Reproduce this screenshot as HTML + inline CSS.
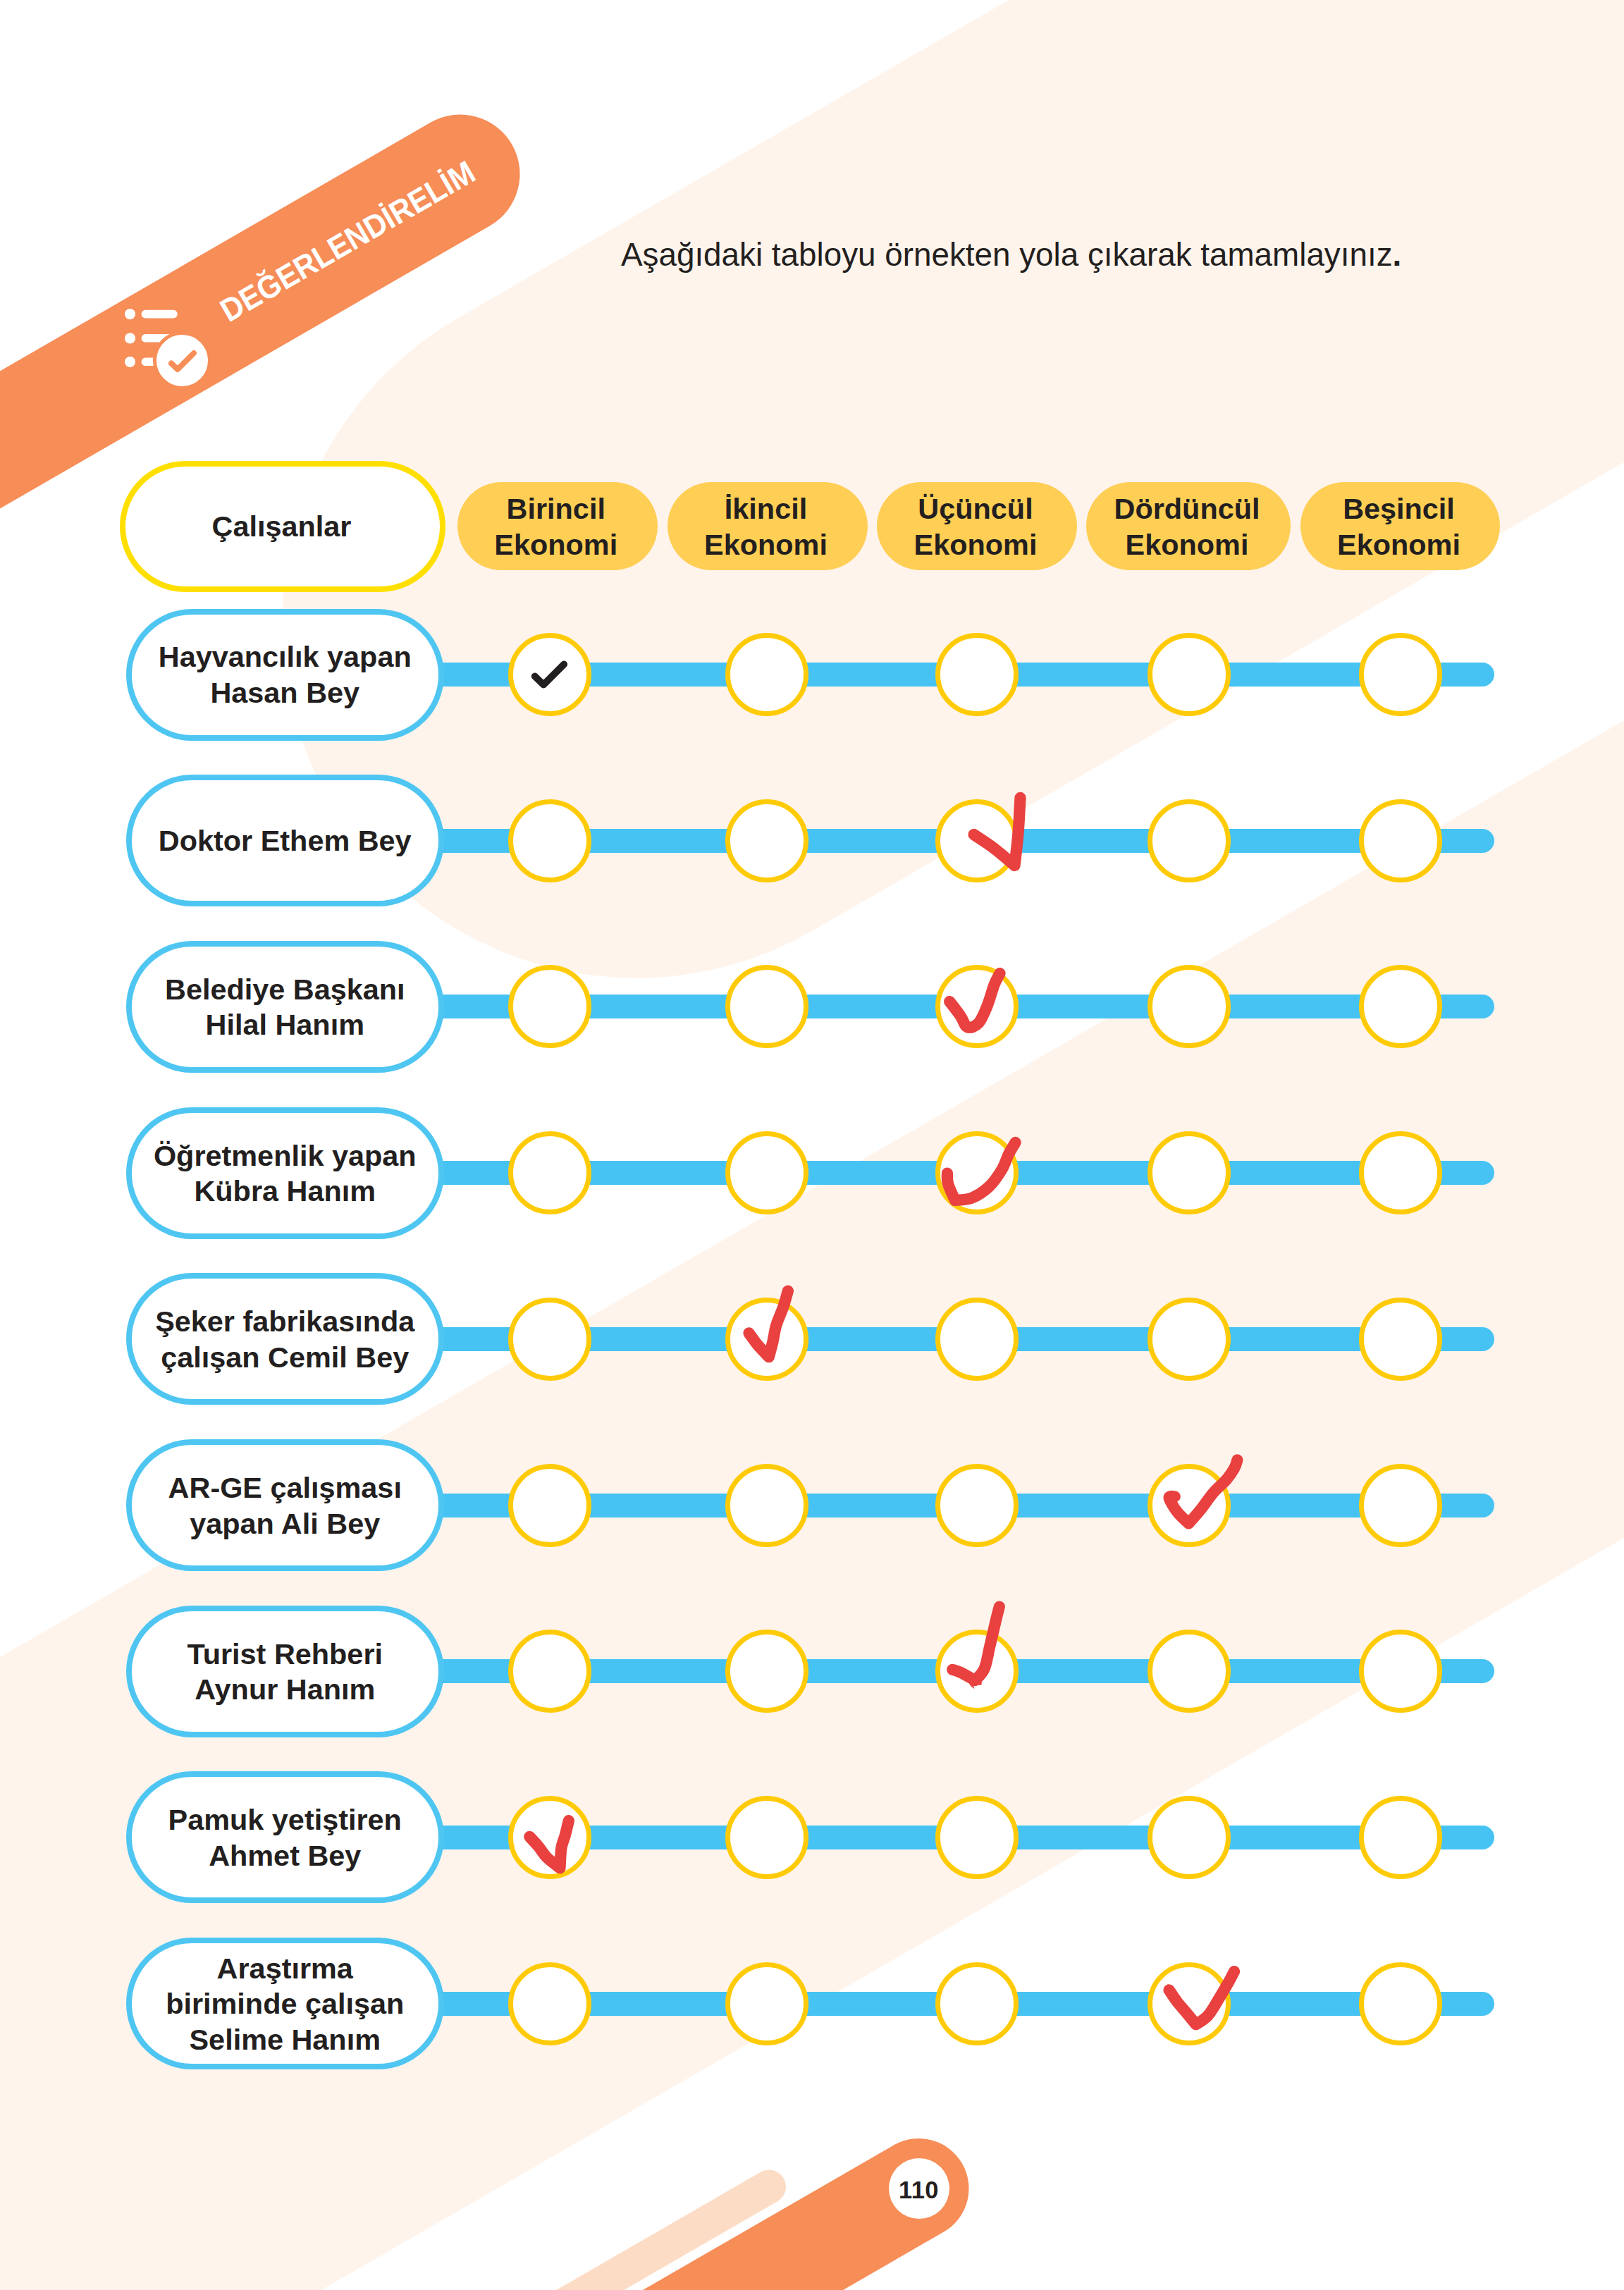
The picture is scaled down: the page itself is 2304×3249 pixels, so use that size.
<!DOCTYPE html>
<html lang="tr">
<head>
<meta charset="utf-8">
<title>Değerlendirelim</title>
<style>
  html, body { margin: 0; padding: 0; }
  body {
    width: 2304px; height: 3249px; position: relative; overflow: hidden;
    background: #ffffff;
    font-family: "Liberation Sans", sans-serif;
    color: #231f20;
  }
  svg.layer { position: absolute; left: 0; top: 0; width: 2304px; height: 3249px; display: block; }
  .title {
    position: absolute; left: 881px; top: 335px; white-space: nowrap;
    font-size: 45.8px; line-height: 54px; font-weight: 400;
  }
  .title b { font-weight: 700; }
  .banner-text {
    position: absolute; left: 328px; top: 464px; white-space: nowrap;
    font-size: 46px; line-height: 46px; font-weight: 700; color: #ffffff;
    transform-origin: 0 100%; transform: translateY(-100%) rotate(-30deg) scaleX(0.917);
  }
  .head {
    position: absolute; box-sizing: border-box; display: flex; align-items: center; justify-content: center;
    text-align: center; font-weight: 700; font-size: 41.4px; line-height: 50.6px;
  }
  .head.main { left: 170px; top: 654px; width: 462px; height: 186px; border: 8px solid #ffdf00; border-radius: 93px; background: #ffffff; padding-right: 3px; }
  .head.col { top: 684px; height: 125px; border-radius: 63px; background: #ffce54; padding: 2px 4px 0 0; }
  .row { position: absolute; left: 0; width: 2304px; height: 0; }
  .row .line { position: absolute; left: 600px; top: -17px; width: 1519.5px; height: 34px; border-radius: 0 17px 17px 0; background: #46c3f2; }
  .row .label {
    position: absolute; box-sizing: border-box; left: 178.5px; top: -93.5px; width: 451.5px; height: 187px;
    border: 8px solid #4fc6f2; border-radius: 94px; background: #ffffff; padding-top: 2px;
    display: flex; align-items: center; justify-content: center; text-align: center;
    font-weight: 700; font-size: 41.4px; line-height: 50.6px;
  }
  .row .dot {
    position: absolute; box-sizing: border-box; top: -59px; width: 118px; height: 118px; margin-left: -59px;
    border: 7.8px solid #ffcb08; border-radius: 50%; background: #ffffff;
  }
  .pageno {
    position: absolute; left: 1260.5px; top: 3062px; width: 86px; height: 86px; border-radius: 50%; background: #ffffff;
    display: flex; align-items: center; justify-content: center;
    font-weight: 700; font-size: 34.5px; line-height: 1; padding-top: 4px; letter-spacing: 0.4px; box-sizing: border-box;
  }
</style>
</head>
<body>

<!-- background shapes -->
<svg class="layer" viewBox="0 0 2304 3249">
  <!-- pale band 1 (rounded end) -->
  <rect x="400" y="383.6" width="3200" height="1004.4" rx="501" ry="501" fill="#fff4ec" transform="rotate(-30 901 884.6)"/>
  <!-- pale band 2 -->
  <polygon points="2304,1022 2304,2182 456,3249 0,3249 0,2351" fill="#fff4ec"/>
  <!-- top-left orange banner -->
  <rect x="-900" y="162.5" width="1637.5" height="169" rx="84.5" ry="84.5" fill="#f78d57" transform="rotate(-30 653 247)"/>
  <!-- bottom decorative strokes -->
  <rect x="-400" y="3078.5" width="1515" height="48" rx="24" ry="24" fill="#fddcc5" transform="rotate(-30 1091 3102.5)"/>
  <rect x="0" y="3034" width="1374.5" height="142" rx="71" ry="71" fill="#f78d57" transform="rotate(-30 1303.5 3105)"/>
</svg>

<div class="title">Aşağıdaki tabloyu örnekten yola çıkarak tamamlayınız<b>.</b></div>
<div class="banner-text">DEĞERLENDİRELİM</div>

<div class="head main">Çalışanlar</div>
<div class="head col" style="left:649px;width:283.5px">Birincil<br>Ekonomi</div>
<div class="head col" style="left:946.5px;width:284px">İkincil<br>Ekonomi</div>
<div class="head col" style="left:1244px;width:284px">Üçüncül<br>Ekonomi</div>
<div class="head col" style="left:1541px;width:290px">Dördüncül<br>Ekonomi</div>
<div class="head col" style="left:1845px;width:283px">Beşincil<br>Ekonomi</div>

<div class="row" style="top:957px"><div class="line"></div><div class="label">Hayvancılık yapan<br>Hasan Bey</div><div class="dot" style="left:779.5px"></div><div class="dot" style="left:1088px"></div><div class="dot" style="left:1386px"></div><div class="dot" style="left:1686.5px"></div><div class="dot" style="left:1986.5px"></div></div>
<div class="row" style="top:1192.7px"><div class="line"></div><div class="label">Doktor Ethem Bey</div><div class="dot" style="left:779.5px"></div><div class="dot" style="left:1088px"></div><div class="dot" style="left:1386px"></div><div class="dot" style="left:1686.5px"></div><div class="dot" style="left:1986.5px"></div></div>
<div class="row" style="top:1428.4px"><div class="line"></div><div class="label">Belediye Başkanı<br>Hilal Hanım</div><div class="dot" style="left:779.5px"></div><div class="dot" style="left:1088px"></div><div class="dot" style="left:1386px"></div><div class="dot" style="left:1686.5px"></div><div class="dot" style="left:1986.5px"></div></div>
<div class="row" style="top:1664.1px"><div class="line"></div><div class="label">Öğretmenlik yapan<br>Kübra Hanım</div><div class="dot" style="left:779.5px"></div><div class="dot" style="left:1088px"></div><div class="dot" style="left:1386px"></div><div class="dot" style="left:1686.5px"></div><div class="dot" style="left:1986.5px"></div></div>
<div class="row" style="top:1899.8px"><div class="line"></div><div class="label">Şeker fabrikasında<br>çalışan Cemil Bey</div><div class="dot" style="left:779.5px"></div><div class="dot" style="left:1088px"></div><div class="dot" style="left:1386px"></div><div class="dot" style="left:1686.5px"></div><div class="dot" style="left:1986.5px"></div></div>
<div class="row" style="top:2135.5px"><div class="line"></div><div class="label">AR-GE çalışması<br>yapan Ali Bey</div><div class="dot" style="left:779.5px"></div><div class="dot" style="left:1088px"></div><div class="dot" style="left:1386px"></div><div class="dot" style="left:1686.5px"></div><div class="dot" style="left:1986.5px"></div></div>
<div class="row" style="top:2371.2px"><div class="line"></div><div class="label">Turist Rehberi<br>Aynur Hanım</div><div class="dot" style="left:779.5px"></div><div class="dot" style="left:1088px"></div><div class="dot" style="left:1386px"></div><div class="dot" style="left:1686.5px"></div><div class="dot" style="left:1986.5px"></div></div>
<div class="row" style="top:2606.9px"><div class="line"></div><div class="label">Pamuk yetiştiren<br>Ahmet Bey</div><div class="dot" style="left:779.5px"></div><div class="dot" style="left:1088px"></div><div class="dot" style="left:1386px"></div><div class="dot" style="left:1686.5px"></div><div class="dot" style="left:1986.5px"></div></div>
<div class="row" style="top:2842.6px"><div class="line"></div><div class="label">Araştırma<br>biriminde çalışan<br>Selime Hanım</div><div class="dot" style="left:779.5px"></div><div class="dot" style="left:1088px"></div><div class="dot" style="left:1386px"></div><div class="dot" style="left:1686.5px"></div><div class="dot" style="left:1986.5px"></div></div>

<div class="pageno">110</div>

<!-- icons + check marks -->
<svg class="layer" viewBox="0 0 2304 3249" fill="none" stroke-linecap="round" stroke-linejoin="round">
  <!-- list/check icon in banner -->
  <g>
    <circle cx="184.5" cy="445.6" r="7.6" fill="#fff"/>
    <circle cx="184.5" cy="479.8" r="7.6" fill="#fff"/>
    <circle cx="184.5" cy="513.3" r="7.6" fill="#fff"/>
    <path d="M206.3 445.6H246M206.3 479.8H240M206.3 513.3H225" stroke="#fff" stroke-width="11.6"/>
    <circle cx="258.5" cy="511.5" r="39" fill="#fff" stroke="#f78d57" stroke-width="5"/>
    <path d="M243 515.5L252 524L275 501" stroke="#f78d57" stroke-width="8"/>
  </g>
  <!-- printed example tick -->
  <path d="M758.8 959.5L771.1 971.5L800.1 942.5" stroke="#231f20" stroke-width="10"/>
  <!-- hand drawn ticks -->
  <g stroke="#e8413f" stroke-width="16.3">
    <path d="M1381.5 1184.0C1386.2 1187.2 1399.8 1195.7 1409.5 1203.0C1419.2 1210.3 1434.5 1223.8 1439.5 1228.0C1440.3 1220.3 1443.2 1198.0 1444.5 1182.0C1445.8 1166.0 1447.0 1140.3 1447.5 1132.0"/>
    <path d="M1347.2 1421.0C1349.8 1424.4 1358.4 1435.3 1362.6 1441.3C1366.8 1447.4 1368.2 1455.7 1372.5 1457.3C1376.8 1459.0 1383.8 1456.3 1388.5 1451.2C1393.2 1446.1 1397.1 1435.6 1400.8 1426.6C1404.5 1417.6 1407.6 1404.6 1410.6 1397.0C1413.6 1389.4 1417.3 1383.7 1418.6 1381.0"/>
    <path d="M1343.9 1664.6C1344.1 1667.2 1343.2 1673.6 1345.1 1680.0C1346.9 1686.4 1353.3 1699.0 1355.0 1702.8C1358.9 1702.3 1370.4 1702.9 1378.4 1699.7C1386.4 1696.5 1395.8 1690.5 1403.0 1683.7C1410.2 1676.9 1416.8 1666.9 1421.5 1659.1C1426.2 1651.3 1428.1 1643.3 1431.3 1636.9C1434.5 1630.5 1439.0 1623.6 1440.6 1620.9"/>
    <path d="M1062.5 1891.3C1064.5 1894.0 1069.5 1901.6 1074.2 1907.3C1078.9 1913.0 1088.0 1922.2 1090.8 1925.2C1091.7 1921.6 1094.7 1911.1 1096.4 1903.6C1098.2 1896.1 1098.8 1888.4 1101.3 1880.2C1103.8 1872.0 1108.4 1862.5 1111.2 1854.4C1114.0 1846.3 1116.8 1835.4 1117.9 1831.6"/>
    <path d="M1666.7 2123.3C1665.4 2123.6 1658.2 2121.5 1658.7 2125.1C1659.2 2128.7 1665.2 2138.8 1669.8 2144.8C1674.4 2150.8 1683.6 2158.6 1686.4 2161.4C1689.2 2158.2 1697.2 2149.6 1703.0 2142.3C1708.8 2135.0 1715.3 2124.9 1721.5 2117.7C1727.7 2110.5 1735.1 2104.9 1740.0 2099.2C1744.9 2093.4 1748.5 2087.8 1751.1 2083.2C1753.7 2078.6 1754.7 2073.4 1755.4 2071.5"/>
    <path d="M1351.3 2368.8C1353.8 2369.7 1360.5 2371.4 1366.0 2374.4C1371.5 2377.4 1380.4 2382.2 1383.5 2384.0C1386.0 2381.0 1393.5 2375.4 1396.8 2367.0C1400.1 2358.6 1401.5 2347.5 1404.2 2336.2C1406.9 2324.9 1410.5 2308.7 1412.8 2299.3C1415.1 2289.9 1417.0 2282.9 1417.8 2279.6"/>
    <path d="M751.4 2606.0C753.5 2608.2 759.6 2614.6 763.7 2619.5C767.8 2624.4 771.0 2630.4 776.1 2635.5C781.2 2640.6 791.4 2647.8 794.5 2650.3C794.8 2645.6 795.2 2629.8 796.4 2622.0C797.6 2614.2 800.2 2610.0 801.9 2603.5C803.6 2597.0 806.0 2586.6 806.8 2583.2"/>
    <path d="M1658.6 2823.5C1660.5 2826.2 1665.8 2834.5 1669.7 2839.6C1673.6 2844.7 1677.5 2848.9 1682.0 2854.3C1686.5 2859.7 1694.3 2869.2 1696.8 2872.2C1699.7 2870.0 1708.2 2866.0 1714.0 2859.3C1719.8 2852.6 1726.4 2840.2 1731.3 2832.2C1736.2 2824.2 1740.3 2817.0 1743.6 2811.2C1746.9 2805.3 1749.8 2799.4 1751.0 2797.1"/>
  </g>
  <polygon points="1372,2384 1378,2393 1382.5,2396 1381,2391.6 1392.5,2390.4 1393,2383" fill="#e8413f"/>
</svg>

</body>
</html>
